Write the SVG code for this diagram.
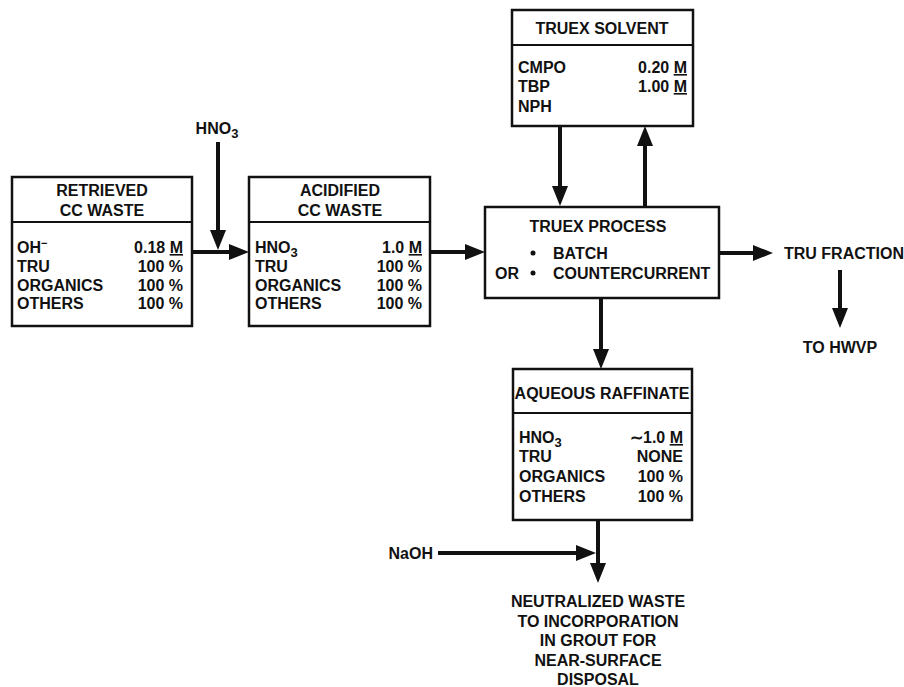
<svg xmlns="http://www.w3.org/2000/svg" width="904" height="687" viewBox="0 0 904 687">
<style>
text{font-family:"Liberation Sans",Arial,sans-serif;font-weight:bold;font-size:16px;fill:#111}
.c{text-anchor:middle}
.e{text-anchor:end}
.box{fill:#fff;stroke:#111;stroke-width:2.5}
.div{stroke:#111;stroke-width:2}
.ar{stroke:#111;stroke-width:4;fill:none;marker-end:url(#ah)}
.sub{font-size:13px}
</style>
<defs>
<marker id="ah" viewBox="0 0 20 16" refX="2" refY="8" markerWidth="20" markerHeight="16" markerUnits="userSpaceOnUse" orient="auto">
<path d="M0,0 L20,8 L0,16 z" fill="#111"/>
</marker>
</defs>
<rect width="904" height="687" fill="#fff"/>

<g id="connectors">
<line class="ar" x1="218" y1="142" x2="218" y2="232"/>
<line class="ar" x1="192" y1="252" x2="231" y2="252"/>
<line class="ar" x1="430" y1="252" x2="467" y2="252"/>
<line class="ar" x1="560" y1="126" x2="560" y2="188"/>
<line class="ar" x1="645" y1="207" x2="645" y2="144"/>
<line class="ar" x1="719" y1="253" x2="755" y2="253"/>
<line class="ar" x1="840" y1="270" x2="840" y2="310"/>
<line class="ar" x1="601" y1="298" x2="601" y2="351"/>
<line class="ar" x1="598" y1="520" x2="598" y2="565"/>
<line class="ar" x1="438" y1="553" x2="578" y2="553"/>
</g>

<g id="hno3-feed">
<text class="c" x="217" y="134">HNO<tspan class="sub" dy="4">3</tspan></text>
</g>

<g id="retrieved">
<rect class="box" x="12" y="177" width="180" height="149"/>
<line class="div" x1="12" y1="222" x2="192" y2="222"/>
<text class="c" x="102" y="196">RETRIEVED</text>
<text class="c" x="102" y="216">CC WASTE</text>
<text x="17" y="253">OH<tspan font-size="11" dy="-6">−</tspan></text>
<text class="e" x="183" y="253">0.18 <tspan text-decoration="underline">M</tspan></text>
<text x="17" y="272">TRU</text>
<text class="e" x="183" y="272">100 %</text>
<text x="17" y="291">ORGANICS</text>
<text class="e" x="183" y="291">100 %</text>
<text x="17" y="309">OTHERS</text>
<text class="e" x="183" y="309">100 %</text>
</g>

<g id="acidified">
<rect class="box" x="249" y="177" width="181" height="149"/>
<line class="div" x1="249" y1="222" x2="430" y2="222"/>
<text class="c" x="340" y="196">ACIDIFIED</text>
<text class="c" x="340" y="216">CC WASTE</text>
<text x="255" y="253">HNO<tspan class="sub" dy="4">3</tspan></text>
<text class="e" x="422" y="253">1.0 <tspan text-decoration="underline">M</tspan></text>
<text x="255" y="272">TRU</text>
<text class="e" x="422" y="272">100 %</text>
<text x="255" y="291">ORGANICS</text>
<text class="e" x="422" y="291">100 %</text>
<text x="255" y="309">OTHERS</text>
<text class="e" x="422" y="309">100 %</text>
</g>

<g id="solvent">
<rect class="box" x="512" y="10" width="181" height="116"/>
<line class="div" x1="512" y1="45" x2="693" y2="45"/>
<text class="c" x="602" y="34">TRUEX SOLVENT</text>
<text x="518" y="73">CMPO</text>
<text class="e" x="687" y="73">0.20 <tspan text-decoration="underline">M</tspan></text>
<text x="518" y="92">TBP</text>
<text class="e" x="687" y="92">1.00 <tspan text-decoration="underline">M</tspan></text>
<text x="518" y="112">NPH</text>
</g>

<g id="process">
<rect class="box" x="485" y="207" width="234" height="91"/>
<text class="c" x="598" y="232">TRUEX PROCESS</text>
<circle cx="533" cy="253" r="2.5" fill="#111"/>
<text x="553" y="259">BATCH</text>
<text x="495" y="279">OR</text>
<circle cx="533" cy="273" r="2.5" fill="#111"/>
<text x="553" y="279">COUNTERCURRENT</text>
</g>

<g id="tru-fraction">
<text x="784" y="259">TRU FRACTION</text>
</g>

<g id="hwvp">
<text class="c" x="840" y="353">TO HWVP</text>
</g>

<g id="raffinate">
<rect class="box" x="513" y="369" width="179" height="151"/>
<line class="div" x1="513" y1="413" x2="692" y2="413"/>
<text class="c" x="602" y="399">AQUEOUS RAFFINATE</text>
<text x="519" y="443">HNO<tspan class="sub" dy="4">3</tspan></text>
<text class="e" x="683" y="443">∼1.0 <tspan text-decoration="underline">M</tspan></text>
<text x="519" y="462">TRU</text>
<text class="e" x="683" y="462">NONE</text>
<text x="519" y="482">ORGANICS</text>
<text class="e" x="683" y="482">100 %</text>
<text x="519" y="502">OTHERS</text>
<text class="e" x="683" y="502">100 %</text>
</g>

<g id="naoh">
<text class="e" x="433" y="559">NaOH</text>
</g>

<g id="neutralized">
<text class="c" x="598" y="607">NEUTRALIZED WASTE</text>
<text class="c" x="598" y="627">TO INCORPORATION</text>
<text class="c" x="598" y="646">IN GROUT FOR</text>
<text class="c" x="598" y="666">NEAR-SURFACE</text>
<text class="c" x="598" y="685">DISPOSAL</text>
</g>
</svg>
